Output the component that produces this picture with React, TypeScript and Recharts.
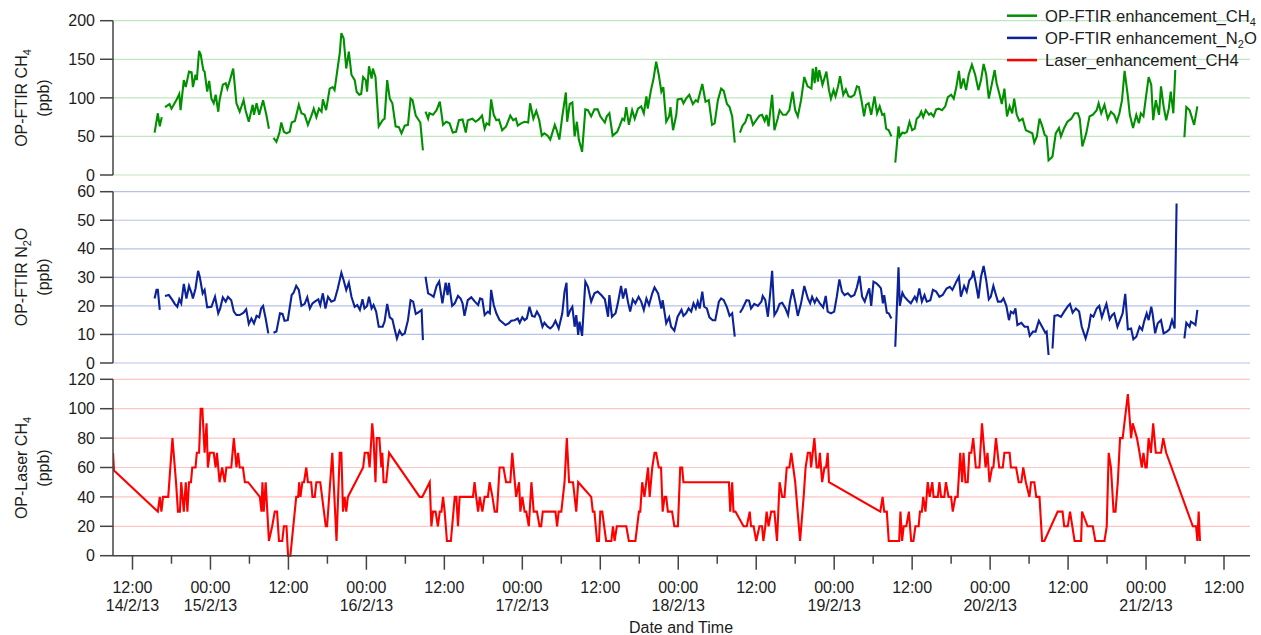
import React from "react";
import { LineChart, Line, XAxis, YAxis, CartesianGrid } from "recharts";

// hours since 14/2/13 00:00, value in ppb; null = gap in record
const ftirCh4: [number, number | null][] = [
  [15.4, 55], [15.9, 80], [16.2, 63], [16.5, 75], [16.7, null],
  [17.0, 88], [17.7, 92], [18.0, 86], [18.8, 98], [19.2, 105], [19.4, 84], [19.9, 123], [20.2, 114], [20.7, 134], [21.1, 133], [21.3, 114], [21.7, 130], [21.9, 123], [22.25, 161], [22.5, 156], [22.9, 136], [23.1, 134], [23.5, 108], [23.8, 122], [24.15, 99], [24.5, 93], [24.8, 104], [25.2, 82], [25.4, 97], [25.9, 117], [26.35, 119], [26.6, 112], [27.0, 123], [27.5, 138], [28.0, 93], [28.5, 82], [29.1, 97], [29.4, 84], [29.9, 69], [30.5, 91], [30.7, 78], [31.1, 93], [31.5, 78], [32.1, 97], [32.6, 78], [33.0, 60], [33.4, null],
  [33.7, 48], [34.15, 43], [34.6, 54], [34.9, 68], [35.3, 56], [35.7, 54], [36.2, 56], [36.5, 68], [37.0, 70], [37.6, 91], [38.0, 80], [38.5, 78], [39.0, 65], [39.5, 76], [39.9, 86], [40.3, 75], [40.7, 86], [41.1, 82], [41.3, 98], [41.8, 84], [42.35, 112], [42.8, 114], [43.1, 110], [43.5, 134], [43.9, 158], [44.15, 184], [44.5, 177], [44.9, 138], [45.3, 160], [45.7, 130], [46.2, 123], [46.5, 108], [46.9, 104], [47.2, 105], [47.5, 127], [47.9, 123], [48.1, 108], [48.4, 141], [48.8, 125], [49.0, 138], [49.4, 127], [49.9, 63], [50.5, 71], [50.8, 73], [51.2, 123], [51.6, 99], [52.0, 93], [52.5, 63], [53.0, 62], [53.4, 54], [53.9, 64], [54.4, 65], [54.8, 99], [55.1, 97], [55.6, 77], [56.3, 68], [56.7, 32], [56.9, null],
  [57.1, 82], [57.5, 73], [57.7, 80], [58.25, 78], [58.8, 84], [59.3, 95], [59.8, 65], [60.3, 69], [60.8, 67], [61.3, 55], [61.8, 56], [62.25, 71], [62.8, 72], [63.3, 55], [63.6, 71], [64.3, 73], [64.8, 69], [65.3, 72], [65.8, 77], [66.2, 60], [66.5, 67], [66.9, 65], [67.2, 98], [67.6, 78], [68.0, 71], [68.4, 72], [68.9, 58], [69.5, 63], [70.15, 77], [70.6, 71], [71.0, 73], [71.3, 64], [71.8, 67], [72.35, 69], [72.9, 68], [73.2, 93], [73.7, 73], [74.15, 83], [74.6, 71], [75.0, 51], [75.4, 54], [75.9, 51], [76.3, 46], [77.0, 65], [77.3, 58], [77.7, 46], [78.15, 76], [78.7, 107], [78.9, 69], [79.3, 92], [79.7, 94], [80.05, 50], [80.4, 69], [80.7, 46], [81.2, 30], [81.7, 85], [82.1, 84], [82.6, 76], [83.1, 85], [83.6, 85], [84.0, 76], [84.7, 68], [85.0, 76], [85.4, 80], [85.9, 51], [86.6, 56], [87.0, 64], [87.4, 73], [87.7, 71], [88.0, 88], [88.4, 65], [88.9, 84], [89.3, 73], [89.8, 86], [90.3, 89], [90.7, 80], [91.1, 102], [91.3, 86], [91.8, 110], [92.2, 125], [92.6, 147], [93.0, 130], [93.4, 108], [93.7, 114], [94.15, 69], [94.6, 76], [94.8, 88], [95.2, 58], [95.7, 78], [95.9, 98], [96.5, 99], [96.8, 93], [97.2, 99], [97.7, 104], [98.25, 92], [98.7, 97], [99.0, 95], [99.7, 118], [100.2, 95], [100.7, 97], [101.2, 65], [101.6, 67], [102.1, 97], [102.6, 112], [103.0, 109], [103.5, 92], [103.9, 88], [104.3, 76], [104.7, 42], [105.1, null],
  [105.5, 55], [105.9, 64], [106.3, 68], [106.7, 78], [107.1, 77], [107.5, 65], [108.0, 71], [108.5, 77], [108.9, 78], [109.3, 70], [109.6, 78], [109.9, 63], [110.45, 104], [110.8, 58], [111.3, 73], [111.6, 84], [112.1, 78], [112.6, 78], [113.1, 84], [113.6, 108], [114.0, 84], [114.4, 76], [114.9, 97], [115.4, 127], [115.9, 115], [116.5, 112], [116.7, 138], [117.0, 119], [117.2, 140], [117.5, 121], [117.7, 136], [118.2, 117], [118.8, 134], [119.2, 110], [119.5, 99], [119.9, 110], [120.2, 102], [120.6, 115], [120.9, 128], [121.4, 104], [121.8, 111], [122.2, 102], [122.6, 101], [123.1, 104], [123.5, 115], [123.8, 114], [124.2, 97], [124.6, 76], [124.9, 91], [125.3, 93], [125.7, 78], [126.2, 102], [126.6, 80], [127.0, 89], [127.4, 78], [127.7, 79], [128.0, 60], [128.4, 58], [128.8, 50], [129.1, null],
  [129.4, 16], [129.9, 63], [130.1, 50], [130.5, 55], [130.8, 54], [131.2, 56], [131.6, 69], [132.0, 58], [132.4, 60], [132.7, 73], [133.1, 76], [133.4, 82], [133.7, 75], [134.1, 84], [134.6, 78], [134.9, 80], [135.3, 76], [135.7, 85], [136.1, 86], [136.6, 84], [137.1, 89], [137.5, 101], [138.0, 104], [138.4, 99], [138.8, 114], [139.2, 135], [139.5, 112], [139.9, 125], [140.3, 110], [140.7, 130], [141.2, 143], [141.7, 130], [142.2, 110], [142.6, 123], [143.0, 144], [143.4, 130], [143.8, 99], [144.1, 111], [144.7, 136], [145.0, 119], [145.4, 106], [145.8, 92], [146.2, 112], [146.6, 76], [147.0, 89], [147.4, 80], [147.7, 99], [148.1, 78], [148.5, 70], [149.0, 73], [149.5, 58], [150.0, 56], [150.5, 54], [150.8, 42], [151.2, 50], [151.6, 73], [152.0, 64], [152.4, 52], [152.7, 50], [153.0, 19], [153.4, 22], [153.6, 24], [154.1, 54], [154.6, 61], [154.9, 50], [155.4, 61], [155.9, 69], [156.5, 73], [157.0, 80], [157.5, 80], [157.8, 73], [158.2, 37], [158.8, 54], [159.3, 76], [159.8, 78], [160.4, 84], [160.7, 93], [161.1, 80], [161.6, 91], [162.1, 73], [162.6, 82], [163.1, 78], [163.5, 69], [163.9, 80], [164.3, 97], [164.7, 135], [165.2, 102], [165.5, 78], [166.0, 61], [166.5, 78], [166.9, 67], [167.2, 80], [167.6, 76], [168.0, 102], [168.4, 127], [168.8, 117], [169.1, 71], [169.5, 97], [170.0, 78], [170.3, 115], [170.7, 89], [171.1, 71], [171.5, 86], [171.8, 108], [172.2, 80], [172.5, 136], [173.0, null],
  [173.9, 49], [174.2, 88], [174.7, 84], [175.4, 65], [175.9, 89],
];

const ftirN2o: [number, number | null][] = [
  [15.4, 22.6], [15.7, 25.6], [15.9, 25.6], [16.2, 18.6], [16.6, null],
  [17.0, 23.5], [17.6, 23.8], [18.15, 22], [18.5, 20.7], [18.9, 19.7], [19.2, 22.3], [19.5, 20.9], [19.9, 27.7], [20.3, 22.6], [20.7, 27], [21.1, 24.4], [21.3, 22.6], [21.7, 26.1], [22.1, 32.3], [22.35, 30.2], [22.8, 24.4], [23.1, 25.6], [23.5, 19.5], [24.15, 19.7], [24.7, 23.2], [25.2, 17.4], [25.5, 19.1], [25.9, 23], [26.35, 21.5], [26.7, 23.2], [27.2, 22], [27.6, 18], [28.0, 16.8], [28.5, 16.8], [29.1, 17.6], [29.5, 18.8], [29.9, 13.7], [30.3, 15.6], [30.7, 13.9], [31.1, 16.5], [31.5, 16], [31.8, 19.1], [32.1, 20], [32.5, 15.6], [32.9, 10.4], [33.3, null],
  [33.7, 10.6], [34.15, 11], [34.7, 17.4], [35.1, 17.2], [35.4, 14.8], [35.9, 15], [36.5, 23.8], [36.8, 24.6], [37.2, 27], [37.6, 25.6], [38.0, 20], [38.5, 20.7], [38.9, 23], [39.3, 19.1], [39.7, 20.9], [40.05, 21.5], [40.6, 22.3], [40.9, 20.3], [41.3, 24.4], [41.7, 19.1], [42.1, 23.2], [42.6, 21.5], [43.1, 22], [43.6, 26.1], [44.15, 31.6], [44.5, 29], [44.9, 25.6], [45.3, 28.1], [45.7, 23.2], [46.2, 19.7], [46.6, 20.3], [47.0, 18.6], [47.4, 22.3], [47.7, 19.1], [48.1, 20], [48.4, 23.2], [48.8, 19.1], [49.1, 20.3], [49.5, 18], [49.9, 12.7], [50.5, 12.7], [50.8, 14.5], [51.2, 20.7], [51.6, 16], [52.0, 15.3], [52.35, 11.8], [52.7, 8.6], [53.1, 11.3], [53.5, 9.8], [53.9, 10.4], [54.4, 15], [54.8, 22], [55.2, 21.5], [55.6, 17.2], [55.9, 17.6], [56.5, 18.6], [56.7, 8], [56.9, null],
  [57.1, 30.2], [57.5, 24.4], [58.0, 23.8], [58.35, 23.2], [58.8, 27], [59.2, 28.5], [59.7, 20.9], [60.2, 28.1], [60.5, 23.8], [60.7, 28.1], [61.2, 20], [61.6, 20.9], [62.1, 23.5], [62.5, 22.6], [62.8, 20.9], [63.1, 16.5], [63.6, 22], [64.15, 23], [64.7, 21.5], [65.2, 20.3], [65.5, 22.6], [65.84, 22.3], [66.2, 16.8], [66.7, 18], [67.0, 17.4], [67.2, 25.6], [67.6, 20.3], [68.0, 17.4], [68.5, 15], [69.0, 14.1], [69.4, 13.3], [69.9, 13.9], [70.3, 14.8], [70.8, 15], [71.3, 15.6], [71.6, 14.1], [72.0, 16], [72.35, 15], [72.7, 15.6], [73.1, 19.7], [73.5, 16.5], [73.9, 16.2], [74.25, 18], [74.7, 16.2], [75.1, 12.7], [75.4, 14.1], [75.9, 12.7], [76.3, 12.1], [76.7, 13], [77.1, 14.8], [77.6, 12.1], [78.15, 17.4], [78.5, 25], [78.8, 28.1], [79.0, 16.2], [79.4, 18.6], [79.7, 19.7], [80.05, 12.7], [80.3, 16.8], [80.6, 9.8], [80.8, 14.5], [81.2, 9.5], [81.7, 28.5], [82.1, 26.7], [82.6, 21.5], [83.1, 24.4], [83.6, 25], [84.15, 23.8], [84.7, 22.3], [85.2, 16.2], [85.4, 23.8], [85.8, 16.2], [86.35, 17.4], [86.7, 20.9], [87.2, 27], [87.5, 22.6], [87.9, 26.1], [88.25, 21.5], [88.6, 18], [89.0, 22.3], [89.4, 20.9], [89.9, 23.2], [90.3, 21.5], [90.7, 18.6], [91.1, 22.6], [91.5, 20.3], [92.0, 24.4], [92.35, 26.5], [92.9, 24.4], [93.4, 19.1], [93.6, 22], [94.15, 13.9], [94.6, 16], [94.9, 12.7], [95.4, 11.3], [95.9, 16.2], [96.5, 18.6], [96.8, 16.5], [97.2, 17.4], [97.6, 19.1], [98.0, 18], [98.35, 20.9], [98.7, 19.1], [99.0, 21.5], [99.3, 19.1], [99.7, 25], [100.0, 19.7], [100.4, 19.1], [100.8, 16], [101.3, 15], [101.7, 15], [102.25, 21.5], [102.6, 22.6], [103.0, 22], [103.5, 19.5], [103.9, 16.5], [104.3, 17.4], [104.7, 9.2], [105.1, null],
  [105.5, 17.6], [105.9, 19.1], [106.5, 22], [106.9, 21.8], [107.2, 19.1], [107.7, 20.7], [108.25, 20], [108.8, 21.5], [109.0, 23.5], [109.4, 22], [109.8, 16.2], [110.15, 24.4], [110.45, 32.3], [110.8, 16.8], [111.2, 18.3], [111.6, 20.7], [112.0, 21.1], [112.5, 19.1], [112.9, 16.8], [113.2, 21.5], [113.6, 25.8], [114.0, 21.5], [114.4, 16.5], [114.9, 20.9], [115.4, 27], [115.95, 22.6], [116.3, 20.9], [116.6, 23.2], [117.0, 21.1], [117.3, 22.6], [117.8, 20.9], [118.3, 19.5], [118.7, 23.5], [119.0, 18], [119.5, 17.4], [120.0, 18], [120.4, 23.2], [120.8, 29.3], [121.2, 25], [121.6, 23.8], [122.1, 24.4], [122.6, 23.2], [123.1, 23.8], [123.5, 26.5], [123.9, 30.5], [124.3, 23.2], [124.7, 21.5], [125.2, 25], [125.4, 26.1], [125.7, 20], [126.05, 28.5], [126.5, 27.9], [126.9, 27], [127.2, 26.1], [127.5, 20.9], [127.7, 23.8], [128.1, 17.6], [128.4, 17.4], [128.8, 15.6], [129.1, null],
  [129.4, 5.7], [129.9, 33.5], [130.1, 20], [130.5, 24.6], [130.8, 23.2], [131.3, 22], [131.8, 20.9], [132.4, 23.2], [132.7, 21.8], [133.1, 26.1], [133.5, 21.5], [133.9, 23.8], [134.25, 21.5], [134.8, 22], [135.2, 25.6], [135.7, 25], [136.2, 23.2], [136.7, 23.8], [137.3, 26.1], [137.8, 26.7], [138.2, 25.6], [138.8, 28.5], [139.2, 30.2], [139.5, 23.2], [140.0, 27], [140.4, 25], [140.8, 29], [141.2, 30], [141.4, 32.3], [141.8, 27.9], [142.2, 22.6], [142.6, 30.2], [143.0, 34], [143.4, 29], [143.8, 22.3], [144.1, 23.2], [144.5, 27], [144.9, 23.8], [145.2, 21.5], [145.7, 21.5], [146.05, 22.6], [146.5, 20], [146.9, 15], [147.2, 18], [147.6, 17.4], [147.9, 19.1], [148.2, 13.3], [148.8, 14.1], [149.3, 12.7], [149.8, 12.7], [150.1, 9.5], [150.6, 11], [151.0, 11], [151.5, 14.8], [152.0, 12.7], [152.5, 10.6], [152.7, 11], [153.0, 2.8], [153.3, null],
  [153.6, 5.1], [153.9, 16.5], [154.4, 16.8], [154.9, 16.2], [155.4, 18], [156.0, 20], [156.3, 20.7], [156.7, 17.6], [157.2, 19.1], [157.7, 18], [158.1, 12.7], [158.7, 8.6], [159.2, 12.7], [159.5, 16.8], [159.9, 16.2], [160.4, 19.1], [160.8, 20], [161.2, 16], [161.6, 18.8], [161.9, 20.7], [162.4, 15.3], [162.8, 16.8], [163.1, 17.4], [163.6, 12.7], [164.0, 15], [164.4, 17.4], [164.8, 24.2], [165.2, 11.8], [165.7, 12.1], [166.05, 8.3], [166.5, 9.2], [167.0, 12.7], [167.4, 11.6], [167.7, 14.5], [168.1, 17.4], [168.4, 15], [168.8, 19.7], [169.0, 17.4], [169.4, 10.4], [169.8, 13.9], [170.3, 15], [170.7, 10.4], [171.2, 11], [171.6, 11.8], [172.0, 15], [172.4, 12.1], [172.7, 55.9], [173.2, null],
  [173.9, 8.6], [174.2, 14.1], [174.7, 12.7], [174.9, 14.5], [175.3, 13.9], [175.6, 13.3], [175.9, 18.6],
];

const laserCh4: [number, number | null][] = [
  [9, 70], [9.15, 58], [15.9, 30], [16.2, 40], [16.45, 30], [16.7, 40], [17.5, 40], [18.15, 80], [18.7, 50], [19.0, 30], [19.3, 30], [19.5, 50], [19.9, 30], [20.2, 50], [20.45, 30], [20.7, 50], [21.0, 50], [21.2, 60], [21.7, 60], [21.9, 70], [22.25, 70], [22.5, 100], [22.75, 100], [23.1, 70], [23.4, 90], [23.6, 60], [23.9, 70], [24.5, 70], [24.8, 60], [25.0, 70], [25.4, 50], [25.8, 60], [26.2, 50], [26.45, 60], [27.2, 60], [27.6, 80], [28.0, 60], [28.25, 70], [28.5, 60], [29.0, 60], [29.3, 50], [29.8, 50],
  [31.6, 40], [31.85, 30], [32.0, 50], [32.2, 30], [32.5, 50], [33.0, 10], [33.5, 20], [33.9, 30], [34.25, 30], [34.55, 10], [35.05, 10], [35.3, 20], [35.7, 20], [35.95, 0], [36.3, 0], [37.2, 40], [37.5, 40], [37.65, 50], [37.85, 40], [38.15, 50], [38.4, 50], [38.75, 60], [39.0, 50], [39.5, 50], [39.7, 40], [40.05, 40], [40.3, 50], [40.9, 50], [41.75, 20], [41.95, 20], [42.75, 70], [43.4, 10], [43.9, 70], [44.15, 70], [44.4, 30], [44.65, 40], [44.9, 30], [45.15, 40],
  [47.5, 60], [47.75, 70], [48.25, 70], [48.5, 60], [48.9, 90], [49.1, 80], [49.4, 50], [49.6, 80], [50.0, 80], [50.3, 60], [50.45, 70], [50.65, 50], [51.05, 50], [51.5, 70], [56.2, 40], [56.6, 40], [57.75, 50], [58.0, 20], [58.25, 30], [58.65, 30], [59.0, 20], [59.3, 30], [59.55, 30], [59.8, 40], [60.05, 30], [60.4, 10], [61.0, 10], [61.6, 40], [61.85, 40], [62.1, 20], [62.35, 40], [64.4, 40], [64.65, 50], [64.9, 40], [65.2, 30], [65.45, 40], [65.85, 30], [66.2, 40], [66.7, 40], [66.97, 50], [67.4, 40], [67.75, 30], [68.1, 30], [68.5, 60], [69.1, 60], [69.5, 50], [70.15, 50], [70.45, 70], [71.05, 40], [71.5, 50], [71.7, 30], [72.0, 40], [72.35, 30], [72.6, 30], [73.0, 20], [73.4, 50], [73.75, 30], [74.25, 30], [74.65, 20], [74.9, 20], [75.15, 30],
  [77.1, 30], [77.35, 20], [77.6, 30], [78.0, 30], [78.5, 50], [78.85, 80], [79.2, 50], [79.8, 50], [80.3, 30], [80.6, 50], [82.6, 40], [82.85, 30], [83.1, 30], [83.5, 10], [83.8, 10], [84.0, 30], [84.3, 30], [84.9, 10], [85.7, 10], [85.95, 20], [86.2, 10], [86.55, 20], [88.0, 20], [88.4, 10], [89.4, 10], [89.95, 30], [90.15, 30], [90.45, 50], [90.8, 40], [91.35, 60], [91.6, 40], [92.0, 60], [92.35, 70], [92.6, 70], [93.0, 60], [93.35, 60], [93.6, 30], [93.9, 40], [94.15, 40], [94.4, 30], [95.05, 30], [95.4, 20], [95.95, 20], [96.3, 60], [96.6, 60], [96.8, 50],
  [103.8, 50], [104.0, 30], [104.3, 50], [104.5, 30], [104.8, 30], [106.05, 20], [106.55, 20], [107.0, 30], [107.2, 20], [107.6, 20], [108.0, 10], [108.5, 20], [108.9, 20], [109.1, 10], [109.4, 20], [109.6, 30], [109.9, 20], [110.3, 30], [110.8, 30], [111.2, 10], [111.6, 50], [112.0, 40], [112.35, 40], [112.7, 60], [113.1, 60], [113.4, 70], [113.7, 60], [114.0, 50], [114.75, 10], [115.3, 40], [115.6, 60], [115.95, 70], [116.3, 70], [116.45, 60], [116.7, 70], [116.95, 80], [117.3, 60], [117.6, 60], [117.8, 70], [118.15, 50], [118.5, 60], [118.75, 60], [119.0, 70], [119.2, 50],
  [127.1, 30], [127.45, 40], [127.7, 30], [128.1, 30], [128.4, 10], [130.0, 10], [130.2, 30], [130.45, 10], [130.7, 20], [131.1, 20], [131.5, 30], [131.85, 10], [132.2, 10], [132.5, 20], [133.0, 20], [133.2, 30], [133.5, 30], [133.7, 40], [134.05, 30], [134.4, 50], [134.7, 40], [135.1, 50], [135.3, 40], [135.95, 40], [136.2, 50], [136.45, 40], [136.95, 40], [137.2, 50], [137.6, 40], [138.0, 40], [138.25, 30], [138.65, 40], [139.0, 40], [139.4, 70], [139.7, 50], [139.9, 70], [140.2, 50], [140.55, 50], [140.8, 70], [141.1, 70], [141.4, 80], [141.8, 60], [142.35, 60], [142.75, 90], [143.3, 60], [143.6, 70], [143.9, 50], [144.3, 60], [144.5, 60], [144.9, 80], [145.4, 60], [145.95, 60], [146.2, 70], [147.0, 70], [147.2, 60], [148.0, 60], [148.4, 50], [148.8, 50], [149.1, 60], [149.5, 50], [150.05, 40], [150.3, 50], [150.8, 50], [151.1, 40], [151.6, 40], [152.0, 10], [152.35, 10],
  [154.4, 30], [155.15, 30], [155.4, 20], [155.95, 20], [156.3, 30], [157.0, 10], [158.0, 10], [158.15, 30], [159.0, 20], [159.8, 20], [160.2, 10], [161.6, 10], [161.95, 20], [162.25, 70], [162.6, 60], [163.0, 30], [163.3, 30], [163.65, 50], [164.0, 80], [164.4, 80], [165.2, 110], [165.7, 80], [165.95, 90], [166.6, 80], [167.0, 70], [167.35, 60], [167.6, 70], [167.9, 60], [168.1, 60], [168.4, 80], [168.75, 70], [169.1, 90], [169.5, 70], [170.3, 70], [170.65, 80], [171.1, 70], [175.2, 20], [175.7, 20], [175.9, 10], [176.1, 30], [176.3, 10],
];

const ch4Ticks = [0, 50, 100, 150, 200];
const n2oTicks = [0, 10, 20, 30, 40, 50, 60];
const laserTicks = [0, 20, 40, 60, 80, 100, 120];

const majorHours = [12, 24, 36, 48, 60, 72, 84, 96, 108, 120, 132, 144, 156, 168, 180];
const timeLabels = ["12:00", "00:00", "12:00", "00:00", "12:00", "00:00", "12:00", "00:00", "12:00", "00:00", "12:00", "00:00", "12:00", "00:00", "12:00"];
const dateLabels = ["14/2/13", "15/2/13", "", "16/2/13", "", "17/2/13", "", "18/2/13", "", "19/2/13", "", "20/2/13", "", "21/2/13", ""];
const minorHours = [18, 30, 42, 54, 66, 78, 90, 102, 114, 126, 138, 150, 162, 174];
const timeDomain = [9, 184];

const FONT = "'Liberation Sans', Arial, sans-serif";
const AXIS = "#444";
const TEXT = "#1c1c1c";

const toRows = (pts: [number, number | null][]) => pts.map(([t, v]) => ({ t, v }));

function TimeTick(props: any) {
  const { x, y, payload } = props;
  const i = majorHours.indexOf(payload.value);
  const major = i >= 0;
  return (
    <g>
      <line x1={x} x2={x} y1={y} y2={y + (major ? 14 : 8)} stroke={AXIS} strokeWidth={1.5} />
      {major && (
        <text x={x} y={y + 37} textAnchor="middle" fontSize={16} fill={TEXT} fontFamily={FONT}>
          {timeLabels[i]}
        </text>
      )}
      {major && dateLabels[i] && (
        <text x={x} y={y + 55} textAnchor="middle" fontSize={16} fill={TEXT} fontFamily={FONT}>
          {dateLabels[i]}
        </text>
      )}
    </g>
  );
}

type PanelProps = {
  data: [number, number | null][];
  top: number;
  height: number;
  margin: { top: number; bottom: number };
  domain: number[];
  ticks: number[];
  color: string;
  grid: string;
  showTime?: boolean;
};

function Panel({ data, top, height, margin, domain, ticks, color, grid, showTime }: PanelProps) {
  return (
    <div style={{ position: "absolute", left: 0, top }}>
      <LineChart
        width={1261}
        height={height}
        data={toRows(data)}
        margin={{ top: margin.top, bottom: margin.bottom, left: 0, right: 11 }}
      >
        <CartesianGrid vertical={false} stroke={grid} strokeWidth={1.2} />
        <XAxis
          dataKey="t"
          type="number"
          domain={timeDomain}
          ticks={[...majorHours, ...minorHours].sort((a, b) => a - b)}
          hide={!showTime}
          height={60}
          axisLine={{ stroke: AXIS, strokeWidth: 1.5 }}
          tickLine={false}
          tickSize={0}
          tickMargin={0}
          tick={<TimeTick />}
          interval={0}
          allowDataOverflow
        />
        <YAxis
          type="number"
          domain={domain}
          ticks={ticks}
          width={113}
          interval={0}
          axisLine={{ stroke: AXIS, strokeWidth: 1.5 }}
          tickLine={{ stroke: AXIS, strokeWidth: 1.5 }}
          tickSize={13}
          tickMargin={5}
          tick={{ fill: TEXT, fontSize: 16, fontFamily: FONT }}
        />
        <Line
          type="linear"
          dataKey="v"
          stroke={color}
          strokeWidth={2.1}
          dot={false}
          activeDot={false}
          connectNulls={false}
          isAnimationActive={false}
        />
      </LineChart>
    </div>
  );
}

const legendItems = [
  { color: "#009000", name: "OP-FTIR enhancement_CH", sub: "4", tail: "" },
  { color: "#0b2299", name: "OP-FTIR enhancement_N", sub: "2", tail: "O" },
  { color: "#ff0000", name: "Laser_enhancement_CH4", sub: "", tail: "" },
];

function AxisTitle({ cy, main, sub, tail }: { cy: number; main: string; sub: string; tail?: string }) {
  return (
    <g>
      <text
        transform={`translate(27, ${cy}) rotate(-90)`}
        textAnchor="middle"
        fontSize={16}
        fill={TEXT}
        fontFamily={FONT}
      >
        {main}
        <tspan fontSize={11} dy={4}>{sub}</tspan>
        {tail ? <tspan dy={-4}>{tail}</tspan> : null}
      </text>
      <text
        transform={`translate(49, ${cy}) rotate(-90)`}
        textAnchor="middle"
        fontSize={16}
        fill={TEXT}
        fontFamily={FONT}
      >
        (ppb)
      </text>
    </g>
  );
}

export default function App() {
  return (
    <div style={{ position: "absolute", left: 0, top: 0, width: 1261, height: 635, background: "#fff", fontFamily: FONT }}>
      <Panel data={ftirCh4} top={0} height={185} margin={{ top: 20.7, bottom: 10 }} domain={[0, 200]} ticks={ch4Ticks} color="#009000" grid="#bfe6bf" />
      <Panel data={ftirN2o} top={180} height={195} margin={{ top: 11.7, bottom: 12 }} domain={[0, 60]} ticks={n2oTicks} color="#0b2299" grid="#b7c2e6" />
      <Panel data={laserCh4} top={368} height={267} margin={{ top: 11.3, bottom: 19.3 }} domain={[0, 120]} ticks={laserTicks} color="#ff0000" grid="#ffc4c4" showTime />
      <svg width={1261} height={635} style={{ position: "absolute", left: 0, top: 0, pointerEvents: "none" }}>
        <AxisTitle cy={98} main="OP-FTIR CH" sub="4" />
        <AxisTitle cy={277} main="OP-FTIR N" sub="2" tail="O" />
        <AxisTitle cy={468} main="OP-Laser CH" sub="4" />
        <text x={681} y={632.5} textAnchor="middle" fontSize={16} fill={TEXT} fontFamily={FONT}>
          Date and Time
        </text>
        {legendItems.map((it, i) => (
          <g key={it.name}>
            <line x1={1007} x2={1037} y1={15.7 + i * 22.2} y2={15.7 + i * 22.2} stroke={it.color} strokeWidth={2.5} />
            <text x={1045} y={21.7 + i * 22.2} fontSize={16.6} fill={TEXT} fontFamily={FONT}>
              {it.name}
              {it.sub ? <tspan fontSize={11} dy={4}>{it.sub}</tspan> : null}
              {it.tail ? <tspan dy={-4}>{it.tail}</tspan> : null}
            </text>
          </g>
        ))}
      </svg>
    </div>
  );
}
